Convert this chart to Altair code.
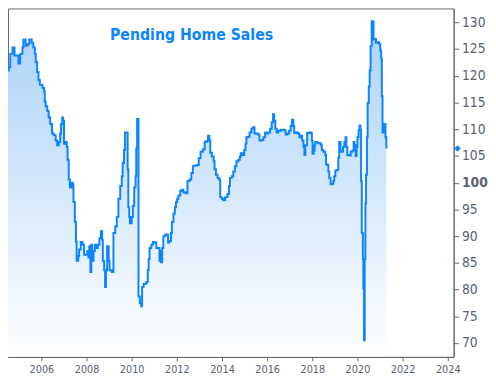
import altair as alt
import pandas as pd

years = [
    2004.52, 2004.55, 2004.62, 2004.72, 2004.81, 2004.91, 2004.98, 2005.06, 2005.16, 2005.20,
    2005.30, 2005.38, 2005.46, 2005.57, 2005.64, 2005.71, 2005.75, 2005.81, 2005.87, 2005.93,
    2006.05, 2006.12, 2006.15, 2006.19, 2006.26, 2006.32, 2006.39, 2006.47, 2006.55, 2006.63,
    2006.70, 2006.77, 2006.83, 2006.87, 2006.92, 2006.96, 2007.00, 2007.06, 2007.12, 2007.16,
    2007.21, 2007.26, 2007.34, 2007.38, 2007.42, 2007.48, 2007.53, 2007.56, 2007.63, 2007.67,
    2007.74, 2007.82, 2007.89, 2007.96, 2008.03, 2008.08, 2008.12, 2008.17, 2008.21, 2008.25,
    2008.31, 2008.37, 2008.43, 2008.50, 2008.57, 2008.64, 2008.69, 2008.72, 2008.78, 2008.82,
    2008.86, 2008.91, 2008.98, 2009.02, 2009.12, 2009.19, 2009.27, 2009.34, 2009.41, 2009.49,
    2009.56, 2009.60, 2009.66, 2009.70, 2009.78, 2009.82, 2009.85, 2009.89, 2009.92, 2010.00,
    2010.05, 2010.11, 2010.17, 2010.20, 2010.24, 2010.30, 2010.36, 2010.42, 2010.46, 2010.53,
    2010.65, 2010.71, 2010.75, 2010.79, 2010.87, 2010.94, 2011.01, 2011.09, 2011.19, 2011.23,
    2011.27, 2011.30, 2011.35, 2011.40, 2011.49, 2011.56, 2011.61, 2011.67, 2011.74, 2011.78,
    2011.85, 2011.91, 2011.96, 2012.01, 2012.07, 2012.15, 2012.22, 2012.29, 2012.39, 2012.47,
    2012.57, 2012.64, 2012.71, 2012.78, 2012.90, 2012.97, 2013.05, 2013.15, 2013.23, 2013.31,
    2013.38, 2013.44, 2013.48, 2013.55, 2013.63, 2013.67, 2013.73, 2013.80, 2013.87, 2013.92,
    2013.99, 2014.06, 2014.14, 2014.24, 2014.31, 2014.35, 2014.43, 2014.50, 2014.57, 2014.64,
    2014.72, 2014.79, 2014.83, 2014.91, 2014.98, 2015.04, 2015.08, 2015.15, 2015.22, 2015.30,
    2015.37, 2015.44, 2015.52, 2015.59, 2015.66, 2015.76, 2015.83, 2015.91, 2015.98, 2016.05,
    2016.13, 2016.20, 2016.26, 2016.31, 2016.36, 2016.42, 2016.49, 2016.60, 2016.71, 2016.78,
    2016.82, 2016.89, 2016.97, 2017.04, 2017.10, 2017.16, 2017.20, 2017.29, 2017.36, 2017.43,
    2017.51, 2017.55, 2017.61, 2017.65, 2017.69, 2017.77, 2017.84, 2017.94, 2017.98, 2018.01,
    2018.06, 2018.10, 2018.13, 2018.20, 2018.27, 2018.38, 2018.42, 2018.49, 2018.57, 2018.61,
    2018.67, 2018.71, 2018.75, 2018.81, 2018.89, 2018.93, 2018.97, 2019.02, 2019.10, 2019.15,
    2019.19, 2019.25, 2019.31, 2019.36, 2019.42, 2019.47, 2019.51, 2019.55, 2019.63, 2019.70,
    2019.77, 2019.83, 2019.87, 2019.92, 2019.96, 2020.00, 2020.05, 2020.09, 2020.13, 2020.16,
    2020.19, 2020.24, 2020.26, 2020.29, 2020.32, 2020.35, 2020.38, 2020.42, 2020.45, 2020.50,
    2020.54, 2020.58, 2020.63, 2020.67, 2020.71, 2020.76, 2020.82, 2020.89, 2020.96, 2021.01,
    2021.05, 2021.08, 2021.11, 2021.15, 2021.21, 2021.24, 2021.28,
]

values = [
    121.0, 121.6, 124.1, 125.3, 123.8, 123.8, 122.3, 124.1, 125.3, 126.8,
    125.6, 125.9, 126.8, 126.2, 125.3, 124.1, 122.6, 120.7, 119.2, 118.3,
    117.7, 117.1, 115.2, 114.3, 113.4, 112.2, 111.0, 109.2, 108.9, 107.9,
    107.0, 107.6, 109.2, 111.0, 112.2, 111.6, 107.3, 107.6, 106.7, 104.3,
    100.6, 99.1, 100.0, 99.7, 96.4, 92.7, 89.0, 85.4, 86.3, 87.5,
    88.9, 88.4, 86.5, 86.5, 87.2, 86.0, 88.1, 83.3, 88.4, 85.4,
    87.2, 88.4, 87.8, 88.4, 89.6, 90.9, 89.3, 85.4, 83.6, 80.5,
    83.6, 88.1, 85.4, 83.6, 83.3, 90.6, 91.8, 93.6, 97.0, 99.4,
    101.2, 103.7, 106.1, 109.4, 109.4, 102.5, 95.4, 93.6, 92.4, 93.6,
    95.7, 99.1, 101.2, 106.4, 111.9, 78.7, 77.5, 76.9, 80.5, 81.1,
    81.4, 83.6, 85.7, 87.8, 88.4, 88.9, 88.8, 87.8, 87.8, 85.4,
    87.2, 85.1, 87.8, 90.0, 90.3, 90.3, 88.8, 89.1, 90.6, 92.7,
    94.2, 95.4, 96.4, 97.0, 97.6, 98.5, 98.7, 98.2, 98.0, 100.3,
    100.6, 101.8, 103.1, 103.2, 103.3, 104.6, 105.8, 106.2, 107.6, 107.8,
    108.8, 107.9, 105.6, 104.9, 104.0, 102.5, 101.5, 100.9, 100.6, 97.3,
    97.0, 96.7, 97.3, 97.9, 99.4, 100.9, 101.2, 102.1, 103.1, 104.0,
    104.3, 104.9, 105.5, 105.2, 106.1, 107.3, 108.5, 108.6, 109.4, 110.1,
    110.4, 109.2, 109.2, 109.0, 107.9, 108.0, 108.5, 109.4, 109.2, 109.4,
    110.1, 111.3, 112.8, 111.6, 110.1, 109.4, 109.7, 109.9, 109.9, 109.7,
    109.0, 109.2, 109.7, 110.6, 111.8, 110.6, 109.3, 109.4, 109.2, 108.5,
    108.8, 107.9, 106.7, 105.2, 107.0, 109.3, 109.4, 109.3, 107.9, 105.4,
    106.0, 107.0, 107.6, 107.5, 107.4, 107.0, 106.1, 105.8, 105.2, 103.4,
    103.3, 102.1, 100.9, 99.7, 99.8, 100.3, 101.2, 102.3, 102.4, 104.6,
    107.6, 105.8, 105.8, 106.7, 107.6, 108.5, 106.7, 105.2, 105.1, 105.8,
    106.0, 107.6, 107.0, 105.0, 106.7, 108.5, 109.8, 110.7, 109.8, 100.3,
    90.6, 85.7, 80.2, 70.5, 85.7, 96.1, 101.5, 108.5, 114.9, 118.0,
    121.0, 125.6, 130.2, 130.1, 126.8, 126.9, 126.2, 126.3, 125.9, 124.7,
    123.2, 116.2, 109.4, 111.0, 111.0, 108.5, 106.4,
]

x_ticks = [2006, 2008, 2010, 2012, 2014, 2016, 2018, 2020, 2022, 2024]
y_ticks = [70, 75, 80, 85, 90, 95, 100, 105, 110, 115, 120, 125, 130]
x_domain = [2004.52, 2024.26]
y_domain = [67.4, 132.6]
title_text = "Pending Home Sales"

BLUE = "#0a84ff"
FONT = "DejaVu Sans Condensed"
LABEL = "#5a6272"

df = pd.DataFrame({"year": years, "value": values})
last = pd.DataFrame({"year": [x_domain[1]], "value": [values[-1]]})
ttl = pd.DataFrame({"t": [title_text]})

x_scale = alt.Scale(domain=x_domain, nice=False, zero=False)
y_scale = alt.Scale(domain=y_domain, nice=False, zero=False)

x_axis = alt.Axis(values=x_ticks, format="d", title=None, grid=False, labelOverlap=False,
                  tickCount=len(x_ticks) + 2,
                  tickSize=4, labelPadding=3, labelFontSize=11, labelFont=FONT,
                  labelColor=LABEL, domainColor="#666666", tickColor="#666666", zindex=1)
y_axis = alt.Axis(orient="right", values=y_ticks, title=None, grid=False, labelOverlap=False,
                  tickCount=len(y_ticks) + 2,
                  tickSize=5, labelPadding=3, labelFontSize=14, labelFont=FONT,
                  labelColor=LABEL, domainColor="#666666", tickColor="#666666", zindex=1,
                  labelFontWeight={"condition": {"test": "datum.value == 100", "value": "bold"},
                                   "value": "normal"})

grad = alt.Gradient(
    gradient="linear",
    stops=[alt.GradientStop(color="#acd2f9", offset=0),
           alt.GradientStop(color="#ffffff", offset=1)],
    x1=1, x2=1, y1=0, y2=1,
)

base = alt.Chart(df).encode(
    x=alt.X("year:Q", scale=x_scale, axis=x_axis),
    y=alt.Y("value:Q", scale=y_scale, axis=y_axis),
)

area = base.mark_area(interpolate="step-after", color=grad, opacity=1).encode(
    y2=alt.datum(y_domain[0])
)
line = base.mark_line(interpolate="step-after", color=BLUE, strokeWidth=2)

marker = alt.Chart(last).mark_point(shape="diamond", filled=True, size=45, color=BLUE,
                                    opacity=1, xOffset=4, clip=False).encode(
    x=alt.X("year:Q", scale=x_scale, axis=x_axis),
    y=alt.Y("value:Q", scale=y_scale, axis=y_axis),
)

title = alt.Chart(ttl).mark_text(font=FONT, fontSize=16, fontWeight="bold", color=BLUE,
                                 align="center", baseline="alphabetic").encode(
    x=alt.value(187), y=alt.value(32), text="t:N"
)

chart = alt.layer(area, line, marker, title).properties(
    width=454, height=355,
    padding={"left": -4, "top": -3, "right": 0, "bottom": 0},
    background="white",
).configure_view(
    stroke="#666666", strokeWidth=1
)

chart.save("out.html", embed_options={"renderer": "svg", "actions": False})
